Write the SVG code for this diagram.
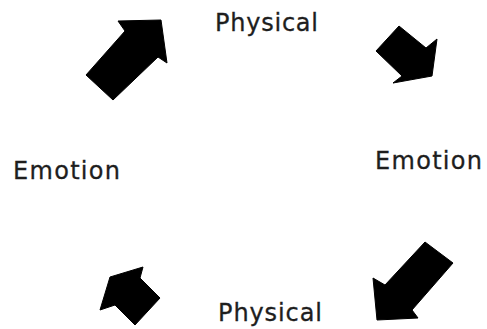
<svg xmlns="http://www.w3.org/2000/svg" width="487" height="329" viewBox="0 0 487 329">
  <style>
    .lbl { font-family: "DejaVu Sans", "Liberation Sans", sans-serif; font-size: 24px; fill: #1e1e1e; stroke: #1e1e1e; stroke-width: 0.3; }
    .arr { fill: #000; stroke: #000; stroke-width: 1; stroke-linejoin: round; }
  </style>
  <rect width="487" height="329" fill="#fff"/>
  <g id="physical-top">
    <text class="lbl" x="215" y="31" textLength="103" lengthAdjust="spacing">Physical</text>
  </g>
  <g id="emotion-right">
    <text class="lbl" x="375" y="169" textLength="107" lengthAdjust="spacing">Emotion</text>
  </g>
  <g id="physical-bottom">
    <text class="lbl" x="218" y="321" textLength="104" lengthAdjust="spacing">Physical</text>
  </g>
  <g id="emotion-left">
    <text class="lbl" x="13" y="179" textLength="107" lengthAdjust="spacing">Emotion</text>
  </g>
  <g id="connectors">
    <polygon class="arr" points="161,20 118,21 125,31 86,75 113,100 158,57 167,63"/>
    <polygon class="arr" points="376,51 399,26 426,48 437,39 432,76 393,83 402,76"/>
    <polygon class="arr" points="425,242 453,263 412,310 418,318 377,320 373,278 385,285"/>
    <polygon class="arr" points="110,277 143,267 140,278 160,298 135,325 115,305 100,310"/>
  </g>
</svg>
